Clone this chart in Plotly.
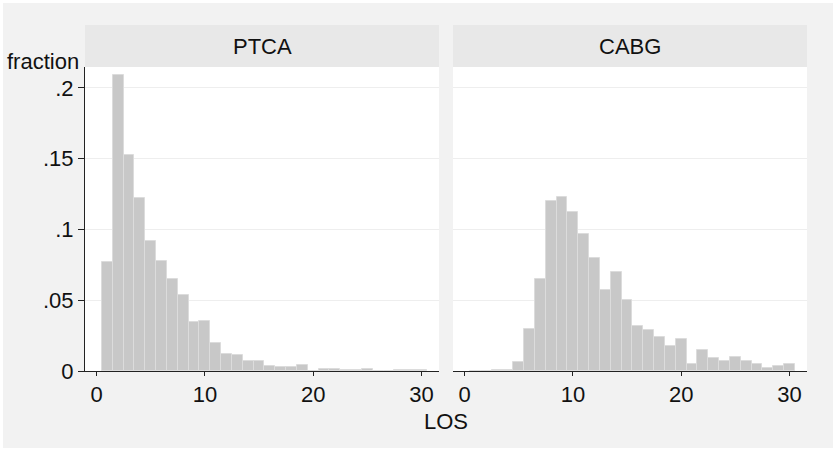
import plotly.graph_objects as go

# Length of stay (days), one bin per day
los_days = list(range(1, 31))

# Fraction of patients in each LOS bin
ptca_fraction = [0.077, 0.2095, 0.1529, 0.1223, 0.0921, 0.078, 0.065, 0.0535, 0.0344, 0.0356,
                 0.0201, 0.0123, 0.0113, 0.0071, 0.0071, 0.0038, 0.0031, 0.0026, 0.004, 0.0,
                 0.0017, 0.0017, 0.0005, 0.0005, 0.0017, 0.0, 0.0, 0.0005, 0.0005, 0.0005]
cabg_fraction = [0.0, 0.0, 0.001, 0.001, 0.0061, 0.0297, 0.0648, 0.1199, 0.1232, 0.1126,
                 0.0966, 0.0796, 0.0573, 0.0702, 0.05, 0.0321, 0.0288, 0.0243, 0.0175, 0.0226,
                 0.005, 0.0146, 0.0094, 0.0071, 0.0101, 0.0068, 0.0047, 0.0019, 0.0035, 0.0047]

panel_titles = ["PTCA", "CABG"]
y_tickvals = [0, 0.05, 0.1, 0.15, 0.2]
y_ticktext = ["0", ".05", ".1", ".15", ".2"]
x_tickvals = [0, 10, 20, 30]

W, H = 833, 449
ML, MR, MT, MB = 85, 26, 67, 78
PW, PH = W - ML - MR, H - MT - MB

FONT = "Liberation Sans, Arial, Helvetica, sans-serif"
FS = 22
BAR_FILL = "#c8c8c8"
BAR_EDGE = "#dcdcdc"
OUTER_BG = "#f2f2f2"
STRIP_BG = "#e8e8e8"
GRID = "#eeeeee"
AXIS = "#222222"
TEXT = "#111111"


def px_x(p):
    return (p - ML) / PW


def px_y(p):
    return (H - MB - p) / PH


left_dom = [0, px_x(439)]
right_dom = [px_x(453), 1]

fig = go.Figure()
for values, xa in [(ptca_fraction, "x"), (cabg_fraction, "x2")]:
    fig.add_trace(go.Bar(
        x=los_days, y=values, width=1, xaxis=xa, yaxis="y" if xa == "x" else "y2",
        marker=dict(color=BAR_FILL, line=dict(color=BAR_EDGE, width=1)),
        showlegend=False, hoverinfo="x+y",
    ))

x_common = dict(range=[-1.07, 31.62], tickvals=x_tickvals, ticks="outside", ticklen=4,
                tickcolor=AXIS, tickwidth=1, showline=True, linecolor=AXIS, linewidth=1,
                showgrid=False, zeroline=False, tickfont=dict(family=FONT, size=FS, color=TEXT),
                fixedrange=True)
y_common = dict(range=[0, 0.2148], tickvals=y_tickvals, showgrid=True, gridcolor=GRID,
                gridwidth=1, zeroline=False, fixedrange=True)

fig.update_layout(
    width=W, height=H,
    margin=dict(l=ML, r=MR, t=MT, b=MB, pad=0),
    paper_bgcolor="white", plot_bgcolor="rgba(0,0,0,0)",
    bargap=0,
    xaxis=dict(domain=left_dom, anchor="y", **x_common),
    xaxis2=dict(domain=right_dom, anchor="y2", **x_common),
    yaxis=dict(domain=[0, 1], anchor="x", ticktext=y_ticktext, ticks="outside", ticklen=6,
               tickcolor=AXIS, tickwidth=1, showline=True, linecolor=AXIS, linewidth=1,
               tickfont=dict(family=FONT, size=FS, color=TEXT), **y_common),
    yaxis2=dict(domain=[0, 1], anchor="x2", showticklabels=False, ticks="",
                showline=False, **y_common),
)

shapes = [
    # outer frame
    dict(type="rect", xref="paper", yref="paper", layer="below",
         x0=px_x(3), x1=px_x(W), y0=px_y(H - 1), y1=px_y(3),
         fillcolor=OUTER_BG, line=dict(width=0)),
]
for dom in (left_dom, right_dom):
    shapes.append(dict(type="rect", xref="paper", yref="paper", layer="below",
                       x0=dom[0], x1=dom[1], y0=0, y1=1,
                       fillcolor="white", line=dict(width=0)))
    shapes.append(dict(type="rect", xref="paper", yref="paper", layer="below",
                       x0=dom[0], x1=dom[1], y0=1, y1=px_y(25),
                       fillcolor=STRIP_BG, line=dict(width=0)))

annotations = []
for title, dom in zip(panel_titles, (left_dom, right_dom)):
    annotations.append(dict(text=title, xref="paper", yref="paper",
                            x=(dom[0] + dom[1]) / 2, y=px_y(46), xanchor="center",
                            yanchor="middle", showarrow=False,
                            font=dict(family=FONT, size=FS, color=TEXT)))
annotations.append(dict(text="fraction", xref="paper", yref="paper", x=px_x(81),
                        y=px_y(61), xanchor="right", yanchor="middle", showarrow=False,
                        font=dict(family=FONT, size=FS, color=TEXT)))
annotations.append(dict(text="LOS", xref="paper", yref="paper", x=px_x(446),
                        y=px_y(422), xanchor="center", yanchor="middle", showarrow=False,
                        font=dict(family=FONT, size=FS, color=TEXT)))

fig.update_layout(shapes=shapes, annotations=annotations)
fig.write_html("out.html")
